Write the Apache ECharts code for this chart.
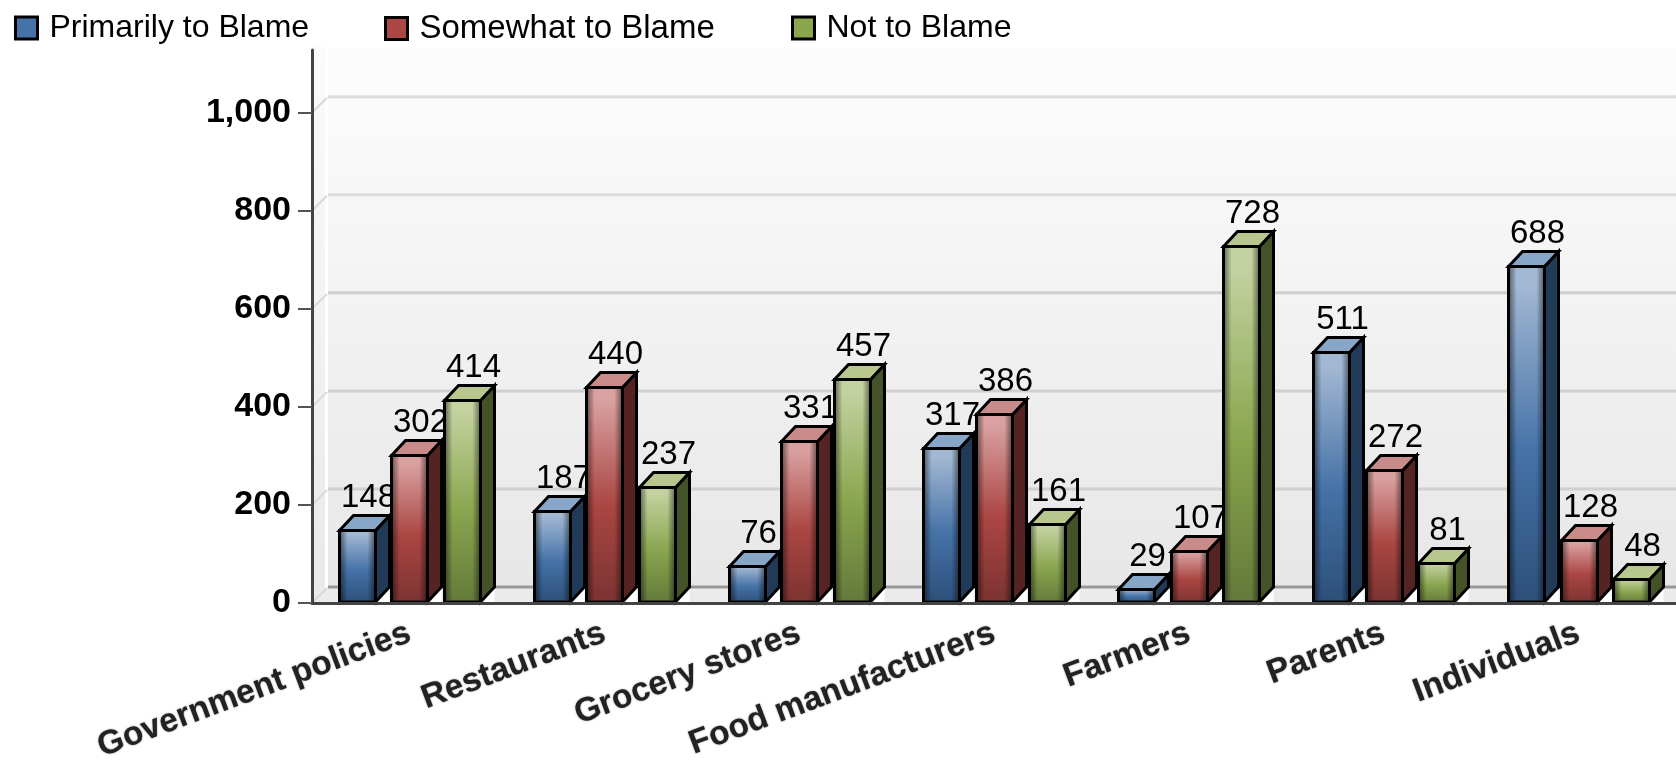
<!DOCTYPE html>
<html><head><meta charset="utf-8">
<style>html,body{margin:0;padding:0;background:#fff}#c{width:1676px;height:762px}</style>
<script src="https://cdn.jsdelivr.net/npm/echarts@6/dist/echarts.min.js"></script>
</head><body><div id="c"></div>
<script>
const categories = ['Government policies','Restaurants','Grocery stores','Food manufacturers','Farmers','Parents','Individuals'];
const primarily = [148,187,76,317,29,511,688];
const somewhat = [302,440,331,386,107,272,128];
const notToBlame = [414,237,457,161,728,81,48];
const yTicks = [0,200,400,600,800,1000];
const seriesNames = ['Primarily to Blame','Somewhat to Blame','Not to Blame'];
const seriesData = [primarily,somewhat,notToBlame];
const palettes = [
  {base:'#4572A7',top:'#88a6c8',side:'#213a57',hi:'#a3b8d3',lo:'#2c4f79'},
  {base:'#AA4643',top:'#c98b8a',side:'#552322',hi:'#d9a2a1',lo:'#7b3331'},
  {base:'#89A54E',top:'#b8c78d',side:'#445327',hi:'#c4d2a0',lo:'#63793a'}
];
const legendLefts = [9,379,786];
const legendFonts = [32,33,32];
const FONT = '"Liberation Sans", Arial, sans-serif';
const DX = 14, DY = 15, WALL = 16;

function lg(x,y,x2,y2,stops){return {type:'linear',x,y,x2,y2,colorStops:stops.map(s=>({offset:s[0],color:s[1]}))};}

function backRender(params, api){
  const cs = params.coordSys;
  const v = api.value(1);
  const y = api.coord([0,v])[1];
  const right = cs.x + cs.width, base = cs.y + cs.height;
  const kids = [];
  if (params.dataIndex === 0){
    const top = cs.y - 3;
    kids.push({type:'rect',shape:{x:cs.x,y:top,width:13,height:base-top},style:{fill:lg(0,0,0,1,[[0,'#fbfbfb'],[1,'#e9e9e9']])}});
    kids.push({type:'rect',shape:{x:cs.x+WALL,y:top,width:cs.width-WALL,height:base-WALL-top},style:{fill:lg(0,0,0,1,[[0,'#fdfdfd'],[1,'#e7e7e7']])}});
    kids.push({type:'polygon',shape:{points:[[cs.x,base],[cs.x+WALL,base-WALL],[right,base-WALL],[right,base]]},style:{fill:'#ebebeb'}});
    kids.push({type:'line',shape:{x1:cs.x+WALL,y1:base-WALL,x2:right,y2:base-WALL},style:{stroke:'#999999',lineWidth:3}});
  } else {
    kids.push({type:'line',shape:{x1:cs.x+WALL,y1:y-WALL,x2:right,y2:y-WALL},style:{stroke:v>=800?'#dcdcdc':'#d0d0d0',lineWidth:3}});
  }
  kids.push({type:'line',shape:{x1:cs.x,y1:y,x2:cs.x+WALL-1,y2:y-WALL+1},style:{stroke:'#d8d8d8',lineWidth:2}});
  return {type:'group',children:kids};
}

function barRender(si){
  return function(params, api){
    const p = palettes[si];
    const cat = api.value(0), val = api.value(1);
    const c = api.coord([cat,val]), c0 = api.coord([cat,0]);
    const band = api.size([1,0])[0];
    const w = Math.round(band*0.185), pitch = band*0.27;
    const x = Math.round(c[0] + (si-1)*pitch - w/2)+0.5, t = Math.round(c[1])+0.5, b = c0[1]-1;
    const stroke = {stroke:'#000',lineWidth:3,lineJoin:'miter'};
    return {type:'group',children:[
      {type:'polygon',shape:{points:[[x+w,b],[x+w+DX,b-DY],[x+w+DX,b]]},style:{fill:'#fff'}},
      {type:'polygon',shape:{points:[[x+w,t],[x+w+DX,t-DY],[x+w+DX,b-DY],[x+w,b]]},style:{fill:p.side,...stroke}},
      {type:'polygon',shape:{points:[[x,t],[x+DX,t-DY],[x+w+DX,t-DY],[x+w,t]]},style:{fill:p.top,...stroke}},
      {type:'rect',shape:{x,y:t,width:w,height:b-t},style:{fill:lg(0,0,0,1,[[0,p.hi],[0.06,p.hi],[0.55,p.base],[1,p.lo]]),...stroke}},
      {type:'rect',shape:{x:x+1.5,y:t+1.5,width:w-3,height:b-t-3},style:{fill:lg(0,0,1,0,[[0,'rgba(0,0,0,0.42)'],[0.2,'rgba(0,0,0,0)'],[0.8,'rgba(0,0,0,0)'],[1,'rgba(0,0,0,0.42)']])}},
      {type:'text',style:{x:x+w/2+11,y:t-DY-1,text:String(val),fill:'#000',font:'33px '+FONT,align:'center',verticalAlign:'bottom'}}
    ]};
  };
}

const series = [{
  type:'custom',name:'wall',silent:true,z:1,clip:false,
  data:yTicks.map(v=>[0,v]),encode:{x:0,y:1},renderItem:backRender
}];
seriesNames.forEach((name,si)=>{
  series.push({
    type:'custom',name,z:2+si,clip:false,
    itemStyle:{color:palettes[si].base},
    data:seriesData[si].map((v,i)=>[i,v]),encode:{x:0,y:1},
    renderItem:barRender(si)
  });
});

const chart = echarts.init(document.getElementById('c'),null,{renderer:'canvas'});
chart.setOption({
  animation:false,
  backgroundColor:'#fff',
  legend:seriesNames.map((name,si)=>({
    left:legendLefts[si],top:7,itemWidth:22,itemHeight:22,
    data:[{name,icon:'rect',itemStyle:{color:palettes[si].base,borderColor:'#000',borderWidth:3}}],
    textStyle:{color:'#000',fontFamily:FONT,fontSize:legendFonts[si],padding:[0,0,0,7]}
  })),
  grid:{left:312,top:50,width:1364,bottom:159,outerBoundsMode:'none'},
  xAxis:{
    type:'category',data:categories,boundaryGap:true,z:6,
    axisLine:{lineStyle:{color:'#444',width:3}},
    axisTick:{alignWithLabel:true,length:14,lineStyle:{color:'#555',width:2}},
    axisLabel:{rotate:20.5,interval:0,margin:29,color:'#222',fontFamily:FONT,fontWeight:'bold',fontSize:33.5,
      textShadowColor:'rgba(70,70,70,0.6)',textShadowBlur:2}
  },
  yAxis:{
    type:'value',min:0,max:1128,z:6,
    axisLine:{show:true,lineStyle:{color:'#444',width:3}},
    axisTick:{show:true,length:14,customValues:yTicks,lineStyle:{color:'#555',width:2}},
    axisLabel:{customValues:yTicks,margin:21,color:'#000',fontFamily:FONT,fontWeight:'bold',fontSize:34,padding:[4,0,0,0],
      formatter:v=>v>=1000?String(v).replace(/(\d)(\d{3})$/,'$1,$2'):String(v)},
    splitLine:{show:false}
  },
  series
});
</script></body></html>
